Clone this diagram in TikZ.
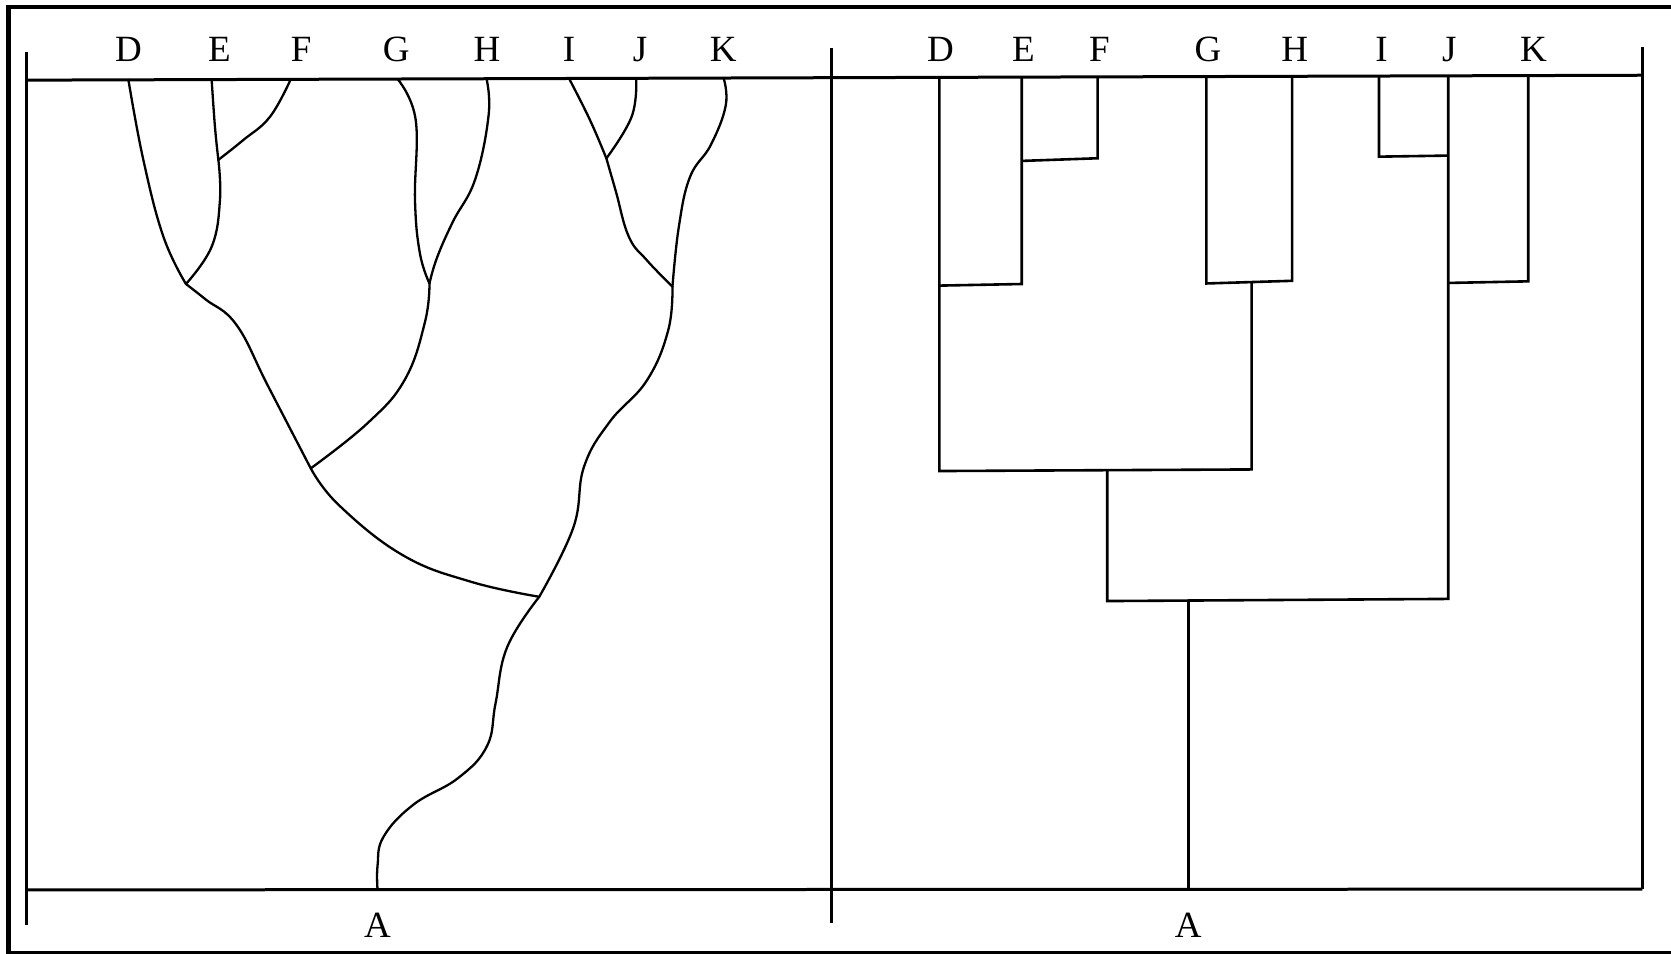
\documentclass[tikz,border=0pt]{standalone}
\usepackage{fontspec}
\setmainfont{Liberation Serif}
\begin{document}
\begin{tikzpicture}[x=0.5329pt,y=-0.5329pt,
  lbl/.style={font=\fontsize{18.5}{20}\selectfont, anchor=base, inner sep=0pt},
  frameline/.style={line width=2.1pt},
  axisline/.style={line width=1.5pt},
  branch/.style={line width=1.15pt, line join=round, line cap=round},
  bar/.style={line width=1.3pt, line join=miter}]
\useasboundingbox (0,0) rectangle (1568,895);

% outer frame (open on the right, runs past the page edge)
\draw[frameline] (1620,6.7) -- (8,6.7) -- (8,894) -- (1620,894);

% panel rules
\coordinate (tl) at (25,75.2);
\coordinate (tr) at (1541,70.6);
\coordinate (bl) at (25,835);
\coordinate (br) at (1541,834.3);
\draw[axisline] (25,48.5) -- (25,868);
\draw[axisline] (780,45) -- (780,866);
\draw[axisline] (1541,44) -- (br);
\draw[axisline] (tl) -- (tr);
\draw[axisline] (bl) -- (br);

% ---------- left panel: labels ----------
\node[lbl] (ltD) at (120.6,57.5) {D};
\node[lbl] (ltE) at (206,57.5) {E};
\node[lbl] (ltF) at (282.5,57.5) {F};
\node[lbl] (ltG) at (371.7,57.5) {G};
\node[lbl] (ltH) at (457,57.5) {H};
\node[lbl] (ltI) at (534,57.5) {I};
\node[lbl] (ltJ) at (600.6,57.5) {J};
\node[lbl] (ltK) at (678.6,57.5) {K};
\node[lbl] (ltA) at (354.3,880) {A};

% leaf points on the upper rule
\coordinate (Ld) at (120.5,74.9);
\coordinate (Le) at (198.6,74.7);
\coordinate (Lf) at (272.8,74.4);
\coordinate (Lg) at (373,74.1);
\coordinate (Lh) at (456.5,73.9);
\coordinate (Li) at (534,73.7);
\coordinate (Lj) at (597,73.5);
\coordinate (Lk) at (679,73.2);
\coordinate (La) at (354.3,835);
% branching points
\coordinate (EF) at (204.9,150);
\coordinate (DE) at (174.5,266.5);
\coordinate (GH) at (403,266);
\coordinate (DEGH) at (291.6,439.5);
\coordinate (IJ) at (569,148.6);
\coordinate (IJK) at (631,269);
\coordinate (RJ) at (506,560);

% ---------- left panel: curved tree ----------
\begin{scope}[branch]
\draw plot[smooth, tension=0.7] coordinates {(Ld) (134.5,150) (153.3,222) (DE)};
\draw plot[smooth, tension=0.7] coordinates {(Le) (201.7,118.9) (EF)};
\draw plot[smooth, tension=0.7] coordinates {(EF) (206.4,187.7) (198.6,231.5) (DE)};
\draw plot[smooth, tension=0.7] coordinates {(Lf) (253.4,109.5) (228.3,131.4) (EF)};
\draw plot[smooth, tension=0.7] coordinates {(Lg) (390,112) (389.4,187.7) (394,237.6) (GH)};
\draw plot[smooth, tension=0.7] coordinates {(Lh) (458.5,108) (446,168) (425,208) (410,242) (GH)};
\draw plot[smooth, tension=0.7] coordinates {(DE) (193,281) (222,305) (251.4,362) (DEGH)};
\draw plot[smooth, tension=0.7] coordinates {(GH) (398.8,302) (380,356) (345,397) (DEGH)};
\draw plot[smooth, tension=0.7] coordinates {(Li) (553.6,112.6) (IJ)};
\draw plot[smooth, tension=0.7] coordinates {(Lj) (592.7,109.5) (IJ)};
\draw plot[smooth, tension=0.7] coordinates {(IJ) (578,180) (590,222) (606.8,244) (IJK)};
\draw plot[smooth, tension=0.7] coordinates {(Lk) (681,99) (667,136) (647.5,166) (637,212.7) (IJK)};
\draw plot[smooth, tension=0.7] coordinates {(DEGH) (318,474) (378,521) (442.3,546) (RJ)};
\draw plot[smooth, tension=0.7] coordinates {(IJK) (627,310) (607,357) (572,396) (548,438) (538,495) (RJ)};
\draw plot[smooth, tension=0.7] coordinates {(RJ) (476,607) (465,660) (457,700) (430,730) (388,755) (360,785) (354.3,812) (La)};
\end{scope}

% ---------- right panel: labels ----------
\node[lbl] (rtD) at (882.5,57.5) {D};
\node[lbl] (rtE) at (960.4,57.5) {E};
\node[lbl] (rtF) at (1031.6,57.5) {F};
\node[lbl] (rtG) at (1133.5,57.5) {G};
\node[lbl] (rtH) at (1215,57.5) {H};
\node[lbl] (rtI) at (1296.4,57.5) {I};
\node[lbl] (rtJ) at (1360,57.5) {J};
\node[lbl] (rtK) at (1439,57.5) {K};
\node[lbl] (rtA) at (1115,880) {A};

% leaf points on the upper rule
\coordinate (Rd) at (881.5,72.6);
\coordinate (Re) at (958.8,72.4);
\coordinate (Rf) at (1030,72.2);
\coordinate (Rg) at (1132,71.8);
\coordinate (Rh) at (1212.4,71.6);
\coordinate (Ri) at (1294,71.3);
\coordinate (Rj) at (1359,71.1);
\coordinate (Rk) at (1434,70.9);
\coordinate (Ra) at (1115,834.5);
% joints
\coordinate (rEF) at (958.8,151);
\coordinate (rDE) at (881.5,268);
\coordinate (rGH) at (1174.5,265);
\coordinate (rIJ) at (1359,146);
\coordinate (rJK) at (1359,265.5);
\coordinate (rDEGH) at (1039,441.5);
\coordinate (rRoot) at (1115,563);

% ---------- right panel: rectangular tree ----------
\begin{scope}[bar]
\draw (Rd) -- (881.5,442) -- (1174.5,440.5) -- (rGH);
\draw (rDE) -- (958.8,266.5) -- (Re);
\draw (rEF) -- (1030,148.5) -- (Rf);
\draw (Rg) -- (1132,266) -- (1212.4,263.5) -- (Rh);
\draw (rDEGH) -- (1039,564) -- (1359,562) -- (Rj);
\draw (Ri) -- (1294,147) -- (rIJ);
\draw (rJK) -- (1434,264) -- (Rk);
\draw (rRoot) -- (Ra);
\end{scope}
\end{tikzpicture}
\end{document}
